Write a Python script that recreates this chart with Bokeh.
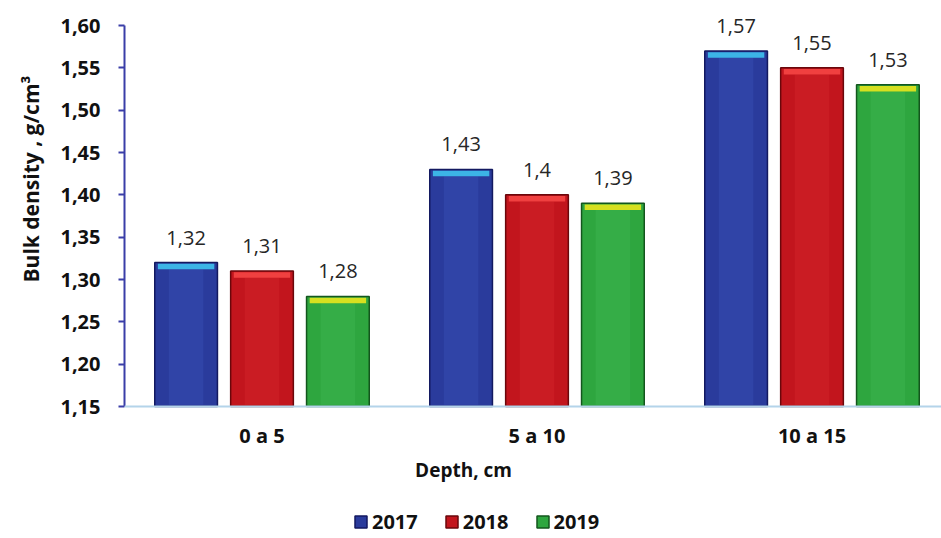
from bokeh.plotting import figure
from bokeh.models import (Range1d, FixedTicker, CustomJSTickFormatter, Title, Label,
                          Legend, LegendItem, ColumnDataSource, Span)
from bokeh.embed import file_html
from bokeh.resources import INLINE
from bokeh.core.properties import value

# ---------------- data ----------------
depths = ["0 a 5", "5 a 10", "10 a 15"]
years = ["2017", "2018", "2019"]
bd_2017 = [1.32, 1.43, 1.57]
bd_2018 = [1.31, 1.40, 1.55]
bd_2019 = [1.28, 1.39, 1.53]
y_ticks = [1.15, 1.20, 1.25, 1.30, 1.35, 1.40, 1.45, 1.50, 1.55, 1.60]
y_label = "Bulk density , g/cm³"
x_label = "Depth, cm"

# ---------------- style / layout ----------------
FONT = "Open Sans"
series = [bd_2017, bd_2018, bd_2019]
main_colors = ["#2a3b9c", "#c2151d", "#2ea63f"]
dark_colors = ["#131960", "#6a070b", "#13561d"]
light_colors = ["#4a64d0", "#e8383c", "#52c862"]
cap_colors = ["#3cb4e6", "#f04040", "#d6e020"]
offsets = [-0.276, 0.0, 0.276]
bar_w = 0.228
cap_h = 0.008

W, H = 941, 538
LEFT = 124
AXIS_Y = 406            # pixel row of the value axis base
y_min, y_max = y_ticks[0], y_ticks[-1]
ppu = 381 / (y_max - y_min)   # pixels per unit of density

p = figure(width=W, height=H, output_backend="svg", toolbar_location=None,
           x_range=Range1d(0, (W - LEFT) / 275),
           y_range=Range1d(y_min - (H - AXIS_Y) / ppu, y_min + AXIS_Y / ppu),
           x_axis_location=None,
           min_border_left=LEFT, min_border_right=0, min_border_top=0,
           min_border_bottom=0)
p.background_fill_color = "white"
p.border_fill_color = "white"
p.outline_line_color = None
p.xgrid.visible = False
p.ygrid.visible = False

main_renderers = []
for j, vals in enumerate(series):
    src = ColumnDataSource(dict(
        x=[i + 0.5 + offsets[j] for i in range(len(depths))],
        top=vals,
        cap_top=[v - 0.0015 for v in vals],
        cap_bottom=[v - cap_h for v in vals],
        hl_top=[v - cap_h for v in vals],
        label=[f"{v:g}".replace(".", ",") for v in vals],
    ))
    r = p.vbar(x="x", top="top", bottom=y_min, width=bar_w, source=src,
               fill_color=main_colors[j], line_color=dark_colors[j], line_width=1.5)
    main_renderers.append(r)
    p.vbar(x="x", top="hl_top", bottom=y_min + 0.002, width=bar_w * 0.55, source=src,
           fill_color=light_colors[j], fill_alpha=0.22, line_color=None)
    p.vbar(x="x", top="cap_top", bottom="cap_bottom", width=bar_w * 0.9, source=src,
           fill_color=cap_colors[j], line_color=None)
    p.text(x="x", y="top", text="label", source=src, text_align="center",
           text_baseline="alphabetic", y_offset=-25, text_font=value(FONT),
           text_font_size="20px", text_color="#262626")

# category axis (drawn inside the frame)
p.add_layout(Span(location=y_min, dimension="width", line_color="#b4d4ea", line_width=2))
cat_src = ColumnDataSource(dict(x=[i + 0.5 for i in range(len(depths))],
                                y=[y_min] * len(depths), text=depths))
p.text(x="x", y="y", text="text", source=cat_src, text_align="center",
       text_baseline="alphabetic", y_offset=29, text_font=value(FONT),
       text_font_style="bold", text_font_size="20px", text_color="#111111")

# y axis
yax = p.yaxis[0]
yax.ticker = FixedTicker(ticks=y_ticks)
yax.bounds = (y_min, y_max)
yax.formatter = CustomJSTickFormatter(code="return tick.toFixed(2).replace('.', ',');")
yax.axis_line_color = "#3a3ea8"
yax.axis_line_width = 2
yax.major_tick_line_color = "#3a3ea8"
yax.major_tick_line_width = 2
yax.major_tick_out = 6
yax.major_tick_in = 0
yax.minor_tick_line_color = None
yax.major_label_standoff = 18
yax.major_label_text_font = FONT
yax.major_label_text_font_style = "bold"
yax.major_label_text_font_size = "20px"
yax.major_label_text_color = "#111111"

# y title (left panel, shifted toward the top)
p.add_layout(Title(text=y_label, align="right", offset=75, text_font=FONT,
                   text_font_style="bold", text_font_size="21px",
                   text_color="#111111", standoff=25), "left")

# x title
p.add_layout(Label(x=463 - LEFT, y=H - 478 + 9, x_units="screen", y_units="screen",
                   text=x_label, text_align="center", text_baseline="alphabetic",
                   text_font=FONT, text_font_style="bold", text_font_size="19px",
                   text_color="#111111"))

# legend
legend = Legend(items=[LegendItem(label=yr, renderers=[main_renderers[j]])
                       for j, yr in enumerate(years)],
                orientation="horizontal", location=(229, 3),
                glyph_width=15, glyph_height=15, label_standoff=4, spacing=26,
                padding=0, margin=0, border_line_color=None,
                background_fill_alpha=0, label_text_font=FONT,
                label_text_font_style="bold", label_text_font_size="20px",
                label_text_color="#111111", label_height=20)
p.add_layout(legend)

open("out.html", "w").write(file_html(p, INLINE))
